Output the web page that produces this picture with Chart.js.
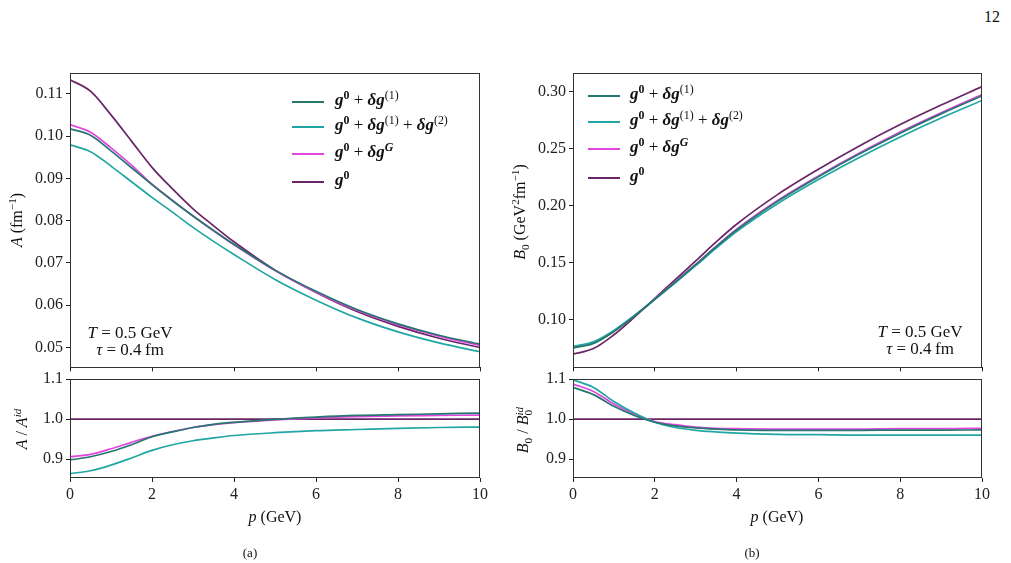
<!DOCTYPE html>
<html>
<head>
<meta charset="utf-8">
<script src="https://cdn.jsdelivr.net/npm/chart.js@4.4.0/dist/chart.umd.min.js"></script>
<style>
  html, body { margin: 0; padding: 0; background: #fff; }
  body { width: 1011px; height: 563px; position: relative; overflow: hidden;
         font-family: 'Liberation Serif', 'DejaVu Serif', serif; color: #111; }
  canvas { position: absolute; }
  .txt { position: absolute; white-space: nowrap; font-size: 16px; line-height: 1; z-index: 5; }
  .c { transform: translate(-50%, -50%); }
  .rot { transform: translate(-50%, -50%) rotate(-90deg); }
  sup, sub { font-size: 70%; line-height: 0; }
  .ss { display: inline-block; vertical-align: -4px; line-height: 0.8; font-size: 70%; }
  .ss span { display: block; }
  .lg-sw { position: absolute; width: 32px; height: 2px; z-index: 5; }
  .lg-tx { position: absolute; white-space: nowrap; font-size: 17px; line-height: 1; z-index: 5; transform: translateY(-62%); }
  .ann { text-align: center; line-height: 17px; font-size: 17px; }
</style>
</head>
<body>
<canvas id="cA" style="left:0;top:60px" width="500" height="320"></canvas>
<canvas id="cAr" style="left:0;top:360px" width="500" height="170"></canvas>
<canvas id="cB" style="left:500px;top:60px" width="511" height="320"></canvas>
<canvas id="cBr" style="left:500px;top:360px" width="511" height="170"></canvas>

<div class="txt" style="left:984px;top:9px">12</div>

<div class="txt rot" style="left:17px;top:220px"><i>A</i> (fm<sup>&minus;1</sup>)</div>
<div class="txt rot" style="left:22px;top:429px"><i>A</i> / <i>A</i><sup><i>id</i></sup></div>
<div class="txt c" style="left:275px;top:517px"><i>p</i> (GeV)</div>
<div class="txt c" style="left:250px;top:552px;font-size:13px">(a)</div>

<div class="txt rot" style="left:520px;top:212px"><i>B</i><sub>0</sub> (GeV<sup>2</sup>fm<sup>&minus;1</sup>)</div>
<div class="txt rot" style="left:524px;top:430px"><i>B</i><sub>0</sub> / <i>B</i><span class="ss"><span><i>id</i></span><span>0</span></span></div>
<div class="txt c" style="left:777px;top:517px"><i>p</i> (GeV)</div>
<div class="txt c" style="left:752px;top:552px;font-size:13px">(b)</div>

<div class="txt c ann" style="left:130px;top:341px"><i>T</i> = 0.5 GeV<br><i>&tau;</i> = 0.4&thinsp;fm</div>
<div class="txt c ann" style="left:920px;top:340px"><i>T</i> = 0.5 GeV<br><i>&tau;</i> = 0.4&thinsp;fm</div>

<script>
// momentum grid (GeV)
const pGrid = [0, 0.5, 1, 1.5, 2, 2.5, 3, 3.5, 4, 5, 6, 7, 8, 9, 10];

// A (fm^-1)
const aDg1  = [0.1017, 0.1002, 0.0965, 0.0925, 0.0885, 0.0847, 0.0811, 0.0777, 0.0744, 0.0683, 0.0633, 0.0590, 0.0556, 0.0529, 0.0508];
const aDg12 = [0.0979, 0.0963, 0.0929, 0.0892, 0.0855, 0.0820, 0.0784, 0.0751, 0.0720, 0.0661, 0.0612, 0.0570, 0.0537, 0.0511, 0.0490];
const aDgG  = [0.1027, 0.1009, 0.0972, 0.0931, 0.0886, 0.0848, 0.0811, 0.0776, 0.0743, 0.0682, 0.0631, 0.0588, 0.0554, 0.0527, 0.0505];
const aG0   = [0.1133, 0.1106, 0.1050, 0.0988, 0.0926, 0.0875, 0.0828, 0.0788, 0.0750, 0.0683, 0.0630, 0.0585, 0.0550, 0.0522, 0.0500];

// A / A^id
const raDg1  = [0.898, 0.906, 0.919, 0.936, 0.956, 0.968, 0.979, 0.987, 0.992, 0.9995, 1.005, 1.009, 1.011, 1.013, 1.015];
const raDg12 = [0.864, 0.871, 0.885, 0.903, 0.922, 0.936, 0.946, 0.953, 0.959, 0.966, 0.971, 0.974, 0.977, 0.979, 0.980];
const raDgG  = [0.906, 0.912, 0.926, 0.942, 0.957, 0.969, 0.979, 0.986, 0.991, 0.998, 1.003, 1.006, 1.008, 1.009, 1.010];
const raG0   = [1, 1, 1, 1, 1, 1, 1, 1, 1, 1, 1, 1, 1, 1, 1];

// B0 (GeV^2 fm^-1)
const bDg1  = [0.0751, 0.0790, 0.0894, 0.1029, 0.1176, 0.1327, 0.1481, 0.1638, 0.1785, 0.2036, 0.2252, 0.2451, 0.2634, 0.2803, 0.2961];
const bDg12 = [0.0764, 0.0804, 0.0904, 0.1035, 0.1176, 0.1322, 0.1472, 0.1626, 0.1771, 0.2015, 0.2227, 0.2421, 0.2601, 0.2767, 0.2921];
const bDgG  = [0.0757, 0.0796, 0.0898, 0.1033, 0.1178, 0.1331, 0.1484, 0.1641, 0.1791, 0.2043, 0.2259, 0.2459, 0.2644, 0.2813, 0.2973];
const bG0   = [0.0696, 0.0745, 0.0866, 0.1020, 0.1185, 0.1350, 0.1514, 0.1680, 0.1835, 0.2095, 0.2317, 0.2522, 0.2709, 0.2880, 0.3043];

// B0 / B0^id
const rbDg1  = [1.079, 1.061, 1.032, 1.009, 0.992, 0.983, 0.978, 0.975, 0.973, 0.972, 0.972, 0.972, 0.9725, 0.9725, 0.973];
const rbDg12 = [1.098, 1.079, 1.044, 1.015, 0.992, 0.979, 0.972, 0.968, 0.965, 0.962, 0.961, 0.960, 0.960, 0.960, 0.960];
const rbDgG  = [1.0875, 1.069, 1.0375, 1.0125, 0.994, 0.986, 0.980, 0.977, 0.976, 0.975, 0.975, 0.975, 0.976, 0.976, 0.977];
const rbG0   = [1, 1, 1, 1, 1, 1, 1, 1, 1, 1, 1, 1, 1, 1, 1];

const seriesColors = ['#25766f', '#20a6a3', '#e046e0', '#6a2566'];
const seriesLabels = [
    '<b><i>g</i><sup>0</sup></b> + <b><i>&delta;g</i></b><sup>(1)</sup>',
    '<b><i>g</i><sup>0</sup></b> + <b><i>&delta;g</i></b><sup>(1)</sup> + <b><i>&delta;g</i></b><sup>(2)</sup>',
    '<b><i>g</i><sup>0</sup></b> + <b><i>&delta;g<sup>G</sup></i></b>',
    '<b><i>g</i><sup>0</sup></b>'
];
const seriesNames = ['g0+dg(1)', 'g0+dg(1)+dg(2)', 'g0+dgG', 'g0'];

const FONT = { family: "'Liberation Serif', 'DejaVu Serif', serif", size: 16 };
const INK = '#222';

// draws the full box round the plot area, matplotlib style
const framePlugin = {
    id: 'frame',
    afterDatasetsDraw(chart) {
        const a = chart.chartArea;
        const ctx = chart.ctx;
        ctx.save();
        ctx.strokeStyle = '#333';
        ctx.lineWidth = 1;
        ctx.strokeRect(Math.round(a.left) + 0.5, Math.round(a.top) + 0.5,
            Math.round(a.right - a.left) - 1, Math.round(a.bottom - a.top) - 1);
        ctx.restore();
    }
};

function toPoints(ys) {
    return pGrid.map((p, i) => ({ x: p, y: ys[i] }));
}

function makePanel(id, seriesList, opts) {
    const ctx = document.getElementById(id);
    return new Chart(ctx, {
        type: 'line',
        data: {
            datasets: seriesList.map((ys, i) => ({
                label: seriesNames[i],
                data: toPoints(ys),
                borderColor: seriesColors[i],
                backgroundColor: seriesColors[i],
                borderWidth: 1.7,
                pointRadius: 0,
                cubicInterpolationMode: 'monotone',
                fill: false
            }))
        },
        options: {
            responsive: false,
            animation: false,
            devicePixelRatio: 1,
            layout: { padding: { left: 0, right: opts.padRight, top: opts.padTop, bottom: 0 } },
            plugins: { legend: { display: false }, tooltip: { enabled: false } },
            scales: {
                x: {
                    type: 'linear',
                    min: 0,
                    max: 10,
                    border: { display: false },
                    grid: { drawOnChartArea: false, drawTicks: true, tickLength: 4, tickColor: INK },
                    ticks: {
                        display: opts.xLabels,
                        stepSize: 2,
                        font: FONT,
                        color: INK,
                        padding: 3,
                        maxRotation: 0
                    },
                    afterFit: s => { s.height = opts.xHeight; }
                },
                y: {
                    min: opts.yMin,
                    max: opts.yMax,
                    border: { display: false },
                    grid: { drawOnChartArea: false, drawTicks: true, tickLength: 4, tickColor: INK },
                    ticks: {
                        stepSize: opts.yStep,
                        includeBounds: false,
                        font: FONT,
                        color: INK,
                        padding: 3,
                        callback: v => v.toFixed(opts.yDigits)
                    },
                    afterFit: s => { s.width = opts.yWidth; }
                }
            }
        },
        plugins: [framePlugin]
    });
}

// (a) A and its ratio
makePanel('cA', [aDg1, aDg12, aDgG, aG0], {
    yMin: 0.0453, yMax: 0.1150, yStep: 0.01, yDigits: 2,
    yWidth: 70, xHeight: 10, padTop: 12, padRight: 20, xLabels: false
});
makePanel('cAr', [raDg1, raDg12, raDgG, raG0], {
    yMin: 0.853, yMax: 1.1, yStep: 0.1, yDigits: 1,
    yWidth: 70, xHeight: 52, padTop: 19, padRight: 20, xLabels: true
});

// (b) B0 and its ratio
makePanel('cB', [bDg1, bDg12, bDgG, bG0], {
    yMin: 0.058, yMax: 0.3165, yStep: 0.05, yDigits: 2,
    yWidth: 73, xHeight: 11, padTop: 11, padRight: 29, xLabels: false
});
makePanel('cBr', [rbDg1, rbDg12, rbDgG, rbG0], {
    yMin: 0.853, yMax: 1.1, yStep: 0.1, yDigits: 1,
    yWidth: 73, xHeight: 52, padTop: 19, padRight: 29, xLabels: true
});

// legends drawn as html so the math labels keep their super/subscripts
function addLegend(left, textLeft, rowYs) {
    rowYs.forEach((y, i) => {
        const sw = document.createElement('div');
        sw.className = 'lg-sw';
        sw.style.left = left + 'px';
        sw.style.top = (y - 1) + 'px';
        sw.style.background = seriesColors[i];
        document.body.appendChild(sw);

        const tx = document.createElement('div');
        tx.className = 'lg-tx';
        tx.style.left = textLeft + 'px';
        tx.style.top = y + 'px';
        tx.innerHTML = seriesLabels[i];
        document.body.appendChild(tx);
    });
}
addLegend(292, 335, [102, 127, 154, 182]);
addLegend(588, 630, [96, 122, 149, 178]);
</script>
</body>
</html>
